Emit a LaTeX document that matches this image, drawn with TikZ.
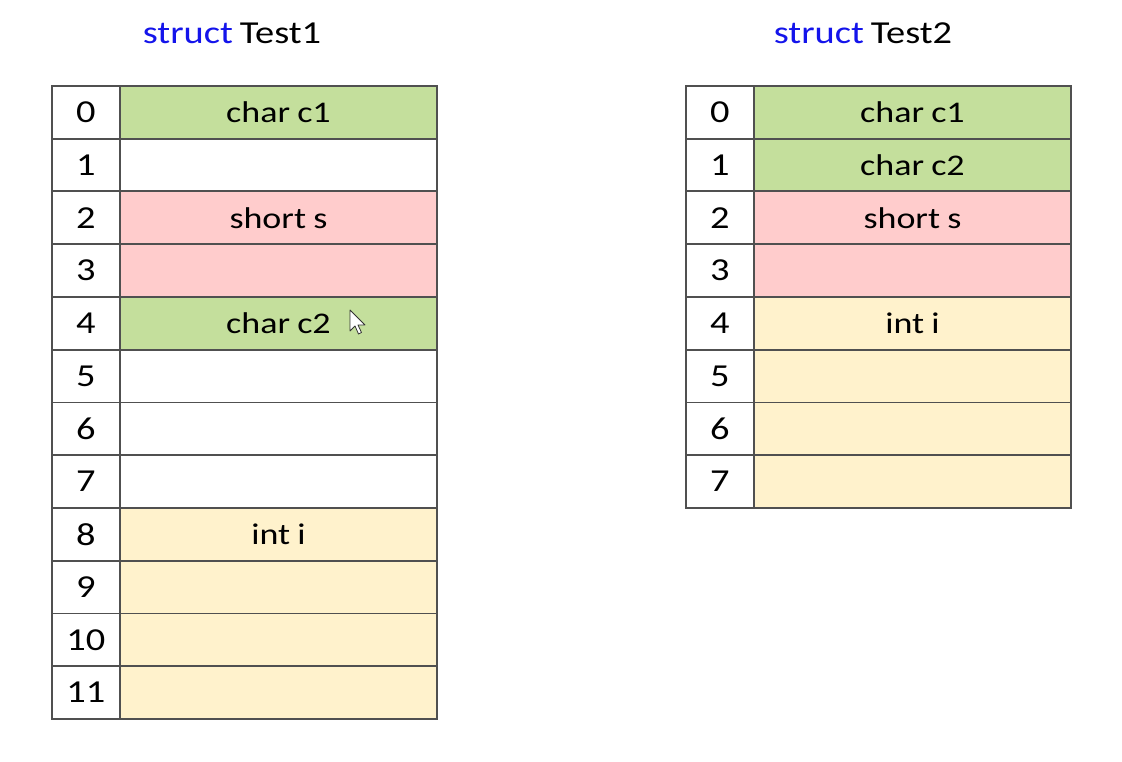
\documentclass[tikz,border=0pt]{standalone}
\usepackage{fontspec}
\setmainfont{Carlito}
\usepackage{graphicx}
\definecolor{cgreen}{RGB}{196,223,156}
\definecolor{cpink}{RGB}{255,204,204}
\definecolor{cyellow}{RGB}{255,242,204}
\definecolor{cline}{RGB}{80,80,80}
\definecolor{kwblue}{RGB}{20,20,235}
\newcommand\wtxt[1]{\scalebox{1.2}[1]{#1}}
\tikzset{
  idxcell/.style={draw=cline, line width=1.9pt, fill=white, minimum width=68pt, minimum height=52.75pt, inner sep=0pt, anchor=north west, font=\fontsize{32}{36}\selectfont},
  valcell/.style={draw=cline, line width=1.9pt, minimum width=317pt, minimum height=52.75pt, inner sep=0pt, anchor=north west, font=\fontsize{30}{36}\selectfont},
  ttl/.style={font=\fontsize{32}{36}\selectfont, inner sep=0pt}
}
\begin{document}
\begin{tikzpicture}[x=1pt,y=-1pt]
\useasboundingbox (0,0) rectangle (1122,762);
\fill[white] (0,0) rectangle (1122,762);
% titles
\node[ttl] (t1) at (232,33) {\wtxt{\spaceskip=0.18em\textcolor{kwblue}{struct} Test1}};
\node[ttl] (t2) at (863,33) {\wtxt{\spaceskip=0.18em\textcolor{kwblue}{struct} Test2}};
% left table
\foreach \i/\c/\t in {0/cgreen/char c1,1/white/,2/cpink/short s,3/cpink/,4/cgreen/char c2,5/white/,6/white/,7/white/,8/cyellow/int i,9/cyellow/,10/cyellow/,11/cyellow/}{
  \node[idxcell] (Li\i) at (51,{85+52.75*\i}) {\wtxt{\i}};
  \node[valcell, fill=\c] (Lv\i) at (119,{85+52.75*\i}) {\wtxt{\spaceskip=0.2em\t}};
}
% right table
\foreach \i/\c/\t in {0/cgreen/char c1,1/cgreen/char c2,2/cpink/short s,3/cpink/,4/cyellow/int i,5/cyellow/,6/cyellow/,7/cyellow/}{
  \node[idxcell] (Ri\i) at (685,{85+52.75*\i}) {\wtxt{\i}};
  \node[valcell, fill=\c] (Rv\i) at (753,{85+52.75*\i}) {\wtxt{\spaceskip=0.2em\t}};
}
% mouse cursor
\draw[fill=white, draw=black!80, line width=0.8pt, line join=round]
  (350,310) -- (350,331) -- (355,326) -- (358.5,334) -- (361.5,332.5) -- (358,325) -- (365,325) -- cycle;
\end{tikzpicture}
\end{document}
